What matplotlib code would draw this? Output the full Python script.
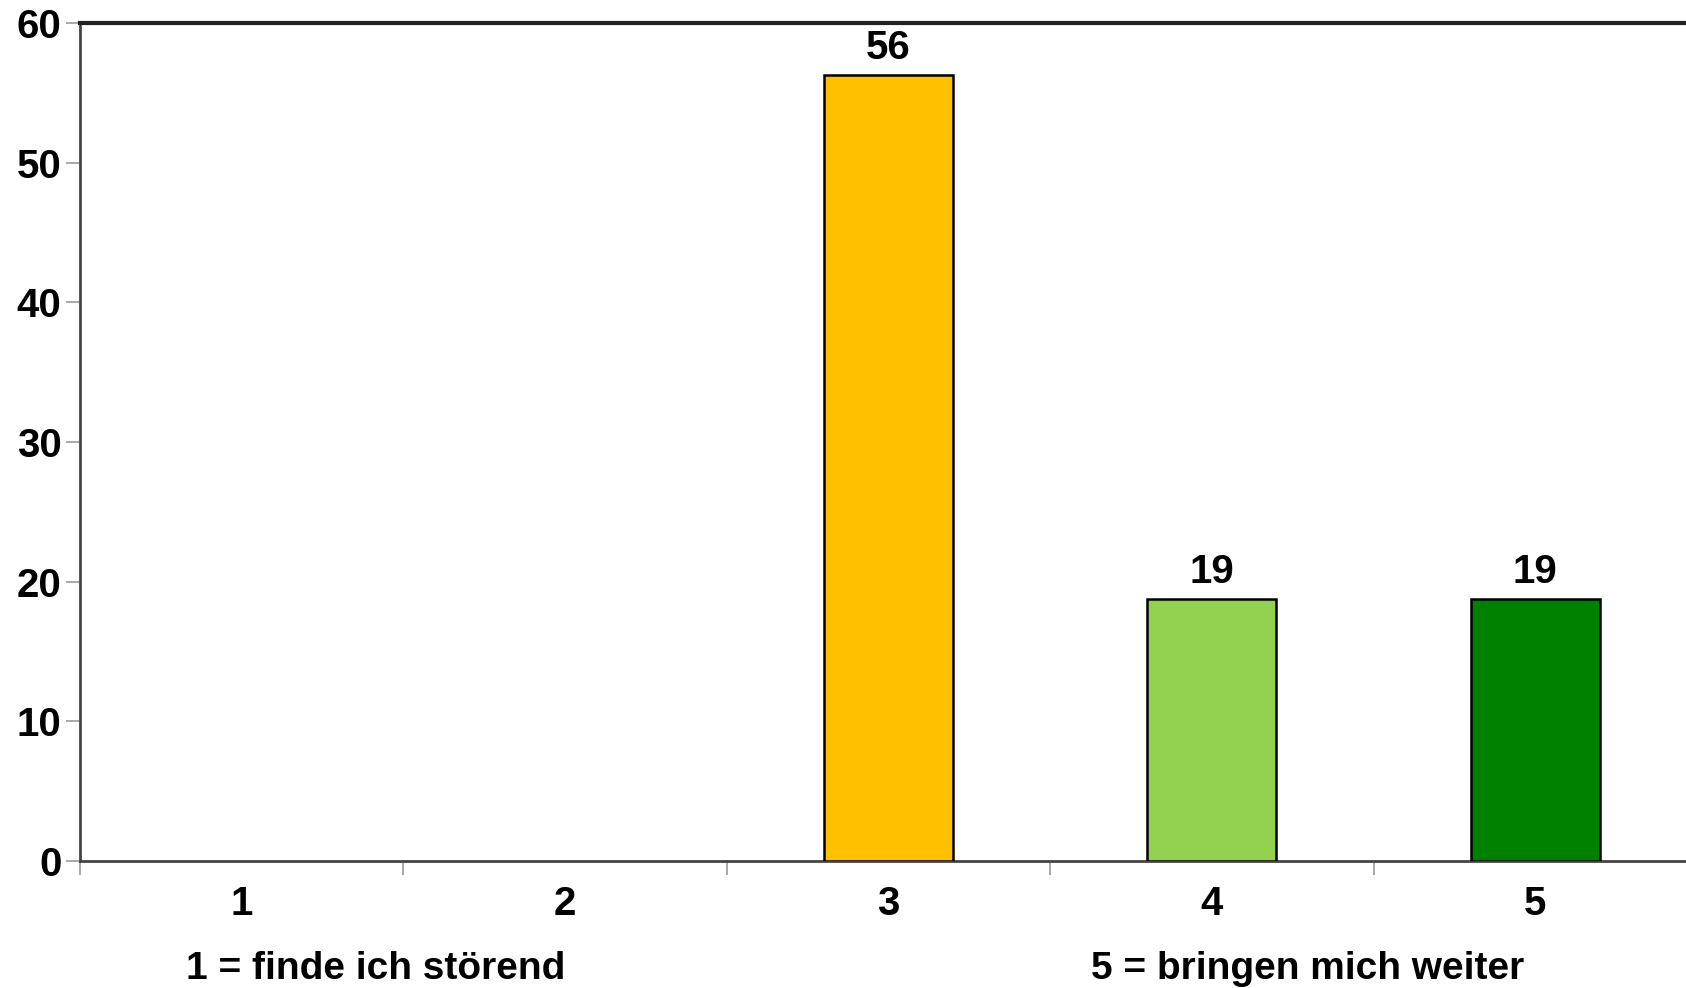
import numpy as np
import matplotlib.pyplot as plt

# Survey answers on a 1-5 scale (percent of respondents)
categories = ['1', '2', '3', '4', '5']
values = [0, 0, 56.25, 18.75, 18.75]
value_labels = ['', '', '56', '19', '19']
bar_colors = ['#FFC000', '#FFC000', '#FFC000', '#92D050', '#008000']
yticks = [0, 10, 20, 30, 40, 50, 60]
note_left = '1 = finde ich störend'
note_right = '5 = bringen mich weiter'

plt.rcParams['font.family'] = ['Liberation Sans', 'DejaVu Sans']
plt.rcParams['font.weight'] = 'bold'

fig = plt.figure(figsize=(16.86, 9.88), dpi=100)
# the plot area runs slightly past the right edge, as in the original
ax = fig.add_axes([79.5 / 1686, 127 / 988, 1617.5 / 1686, 838 / 988])

x = np.arange(len(categories))
edge_w = [1.8 if v > 0 else 0 for v in values]
bars = ax.bar(x, values, width=0.4, color=bar_colors, edgecolor='black',
              linewidth=edge_w, zorder=3)

for b, lab in zip(bars, value_labels):
    if lab:
        ax.annotate(lab, (b.get_x() + b.get_width() / 2, b.get_height()),
                    xytext=(0, 6), textcoords='offset points',
                    ha='center', va='bottom', fontsize=29, fontweight='bold')

ax.set_xlim(-0.5, len(categories) - 0.5)
ax.set_ylim(0, 60)
ax.set_yticks(yticks)
ax.set_yticklabels([str(t) for t in yticks], fontsize=29, fontweight='bold')

# ticks at category boundaries, labels at category centres
ax.set_xticks(np.arange(len(categories) + 1) - 0.5)
ax.set_xticklabels([])
ax.set_xticks(x, minor=True)
ax.set_xticklabels(categories, minor=True, fontsize=29, fontweight='bold')
ax.tick_params(axis='x', which='major', length=10, width=1.2, color='#999999',
               direction='out')
ax.tick_params(axis='x', which='minor', length=0, pad=17)
ax.tick_params(axis='y', length=10, width=1.2, color='#999999', pad=3)

for side in ['left', 'bottom']:
    ax.spines[side].set_color('#444444')
    ax.spines[side].set_linewidth(2)
ax.spines['top'].set_color('#222222')
ax.spines['top'].set_linewidth(3)
ax.spines['right'].set_visible(False)

fig.text(376 / 1686, 1 - 969 / 988, note_left, ha='center', va='center',
         fontsize=28, fontweight='bold')
fig.text(1308 / 1686, 1 - 969 / 988, note_right, ha='center', va='center',
         fontsize=28, fontweight='bold')

fig.savefig('out.png', dpi=100)
